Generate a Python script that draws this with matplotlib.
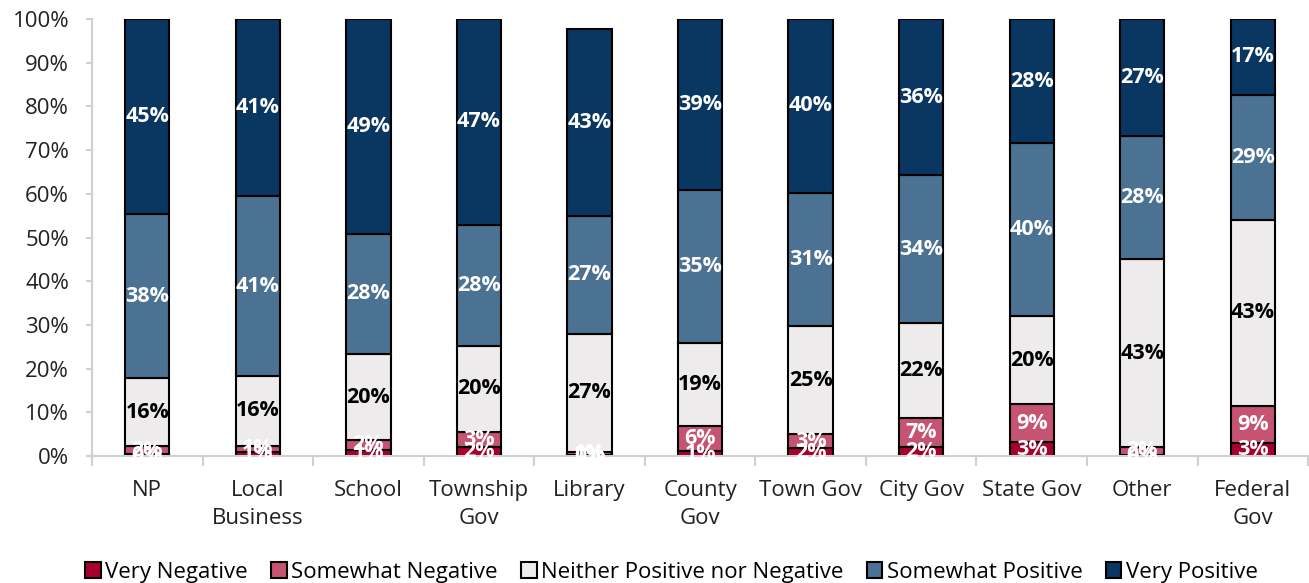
import matplotlib.pyplot as plt
import numpy as np

categories = ['NP', 'Local\nBusiness', 'School', 'Township\nGov', 'Library', 'County\nGov',
              'Town Gov', 'City Gov', 'State Gov', 'Other', 'Federal\nGov']
series = ['Very Negative', 'Somewhat Negative', 'Neither Positive nor Negative',
          'Somewhat Positive', 'Very Positive']
very_neg = [0.4, 1.0, 1.4, 2.1, 0.3, 1.2, 1.8, 2.0, 3.2, 0.3, 2.9]
some_neg = [1.8, 1.4, 2.3, 3.4, 0.7, 5.7, 3.2, 6.7, 8.6, 1.8, 8.6]
neither = [15.6, 15.9, 19.6, 19.7, 27.0, 19.0, 24.7, 21.7, 20.2, 42.9, 42.6]
some_pos = [37.6, 41.1, 27.6, 27.7, 27.0, 35.0, 30.6, 33.9, 39.6, 28.2, 28.6]
very_pos = [44.6, 40.6, 49.1, 47.1, 42.8, 39.1, 39.7, 35.7, 28.4, 26.8, 17.3]

colors = ['#A8002E', '#C75372', '#EDEBEC', '#4B7292', '#0A3662']
text_colors = ['white', 'white', 'black', 'white', 'white']

plt.rcParams['font.family'] = ['Open Sans', 'DejaVu Sans']

fig = plt.figure(figsize=(13.09, 5.83), dpi=100)
ax = fig.add_axes([0.0703, 0.2178, 0.929, 0.7496])

x = np.arange(len(categories))
bottom = np.zeros(len(categories))
for vals, col, tcol, name in zip([very_neg, some_neg, neither, some_pos, very_pos],
                                 colors, text_colors, series):
    vals = np.array(vals)
    ax.bar(x, vals, 0.4, bottom=bottom, color=col, edgecolor='black', linewidth=1.5,
           label=name, zorder=2)
    for xi, b, v in zip(x, bottom, vals):
        ax.text(xi, b + v / 2, f'{round(v):.0f}%', ha='center', va='center',
                color=tcol, fontsize=15.5, fontweight='bold', zorder=3)
    bottom += vals

ax.set_xlim(-0.5, len(categories) - 0.5)
ax.set_ylim(0, 100)
ax.set_yticks(np.arange(0, 101, 10))
ax.set_yticklabels([f'{v}%' for v in range(0, 101, 10)], fontsize=16, color='#222222')
ax.set_xticks(x)
ax.set_xticklabels(categories, fontsize=16, color='#222222', linespacing=1.45)
ax.set_xticks(np.arange(-0.5, len(categories), 1), minor=True)
ax.tick_params(axis='x', which='major', length=0, pad=17)
ax.tick_params(axis='x', which='minor', length=7, color='#D0D0D0', width=1.5)
ax.tick_params(axis='y', length=4.5, color='#D0D0D0', width=1.5, pad=12)

for s in ['top', 'right']:
    ax.spines[s].set_visible(False)
for s in ['left', 'bottom']:
    ax.spines[s].set_color('#D0D0D0')
    ax.spines[s].set_linewidth(1.5)

fig.legend(loc='center', bbox_to_anchor=(0.513, 0.018), ncol=5, frameon=False,
           fontsize=16, handlelength=0.7, handleheight=0.7, handletextpad=0.2,
           columnspacing=1.05)

fig.savefig('out.png', dpi=100)
